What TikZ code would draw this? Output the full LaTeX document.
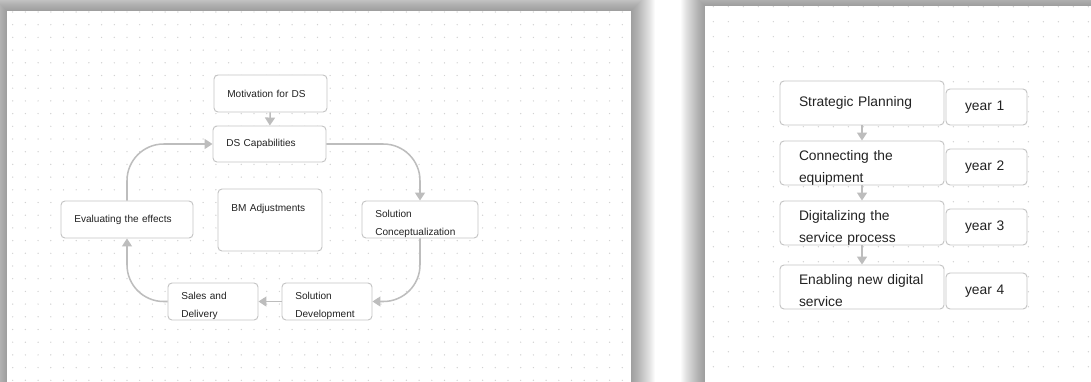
\documentclass[tikz,border=0pt]{standalone}
\usepackage{fontspec}
\setmainfont{Liberation Sans}
\usetikzlibrary{arrows.meta}

\definecolor{boxline}{HTML}{C4C4C4}
\definecolor{arrowgray}{HTML}{BDBDBD}
\definecolor{dotgray}{HTML}{D2D2D2}
\definecolor{textgray}{HTML}{222222}

\begin{document}
\begin{tikzpicture}[x = 0.03cm, y = -0.03cm,
  box/.style = {draw = boxline, fill = white, line width = 0.8pt, rounded corners = 0.12cm,
    text = textgray, align = left, inner ysep = 0pt},
  smallbox/.style = {box, font = \fontsize{8.6}{15.4}\selectfont, inner xsep = 0.4cm},
  bigbox/.style = {box, font = \fontsize{11.8}{18.2}\selectfont, inner xsep = 0.57cm},
  smalltwo/.style = {smallbox, text depth = 10.4pt},
  bigtwo/.style = {bigbox, text depth = 12pt},
  link/.style = {draw = arrowgray, line width = 1.3pt, rounded corners = 1.1cm,
    -{Triangle[width = 0.3cm, length = 0.24cm]}}]
  \useasboundingbox (0, 0) rectangle (1091, 381);
  \clip (0, 0) rectangle (1091, 381);

  % shadows and the two sheets
  \foreach \i in {1,...,24} {
    \fill[black, opacity = 0.018] ({7-\i}, {11-\i}) rectangle ({631+\i}, 400);
    \fill[black, opacity = 0.018] ({705-\i}, {6-\i}) rectangle (1110, 400);
  }
  \fill[white] (7, 11) rectangle (631, 400);
  \fill[white] (705, 6) rectangle (1110, 400);

  % dot grid
  \foreach \i in {1,...,49}
    \foreach \j in {0,...,29}
      \fill[dotgray] ({12.7*\i}, {12+12.7*\j}) circle (0.022cm);
  \foreach \i in {0,...,25}
    \foreach \j in {0,...,24}
      \fill[dotgray] ({713.3+15*\i}, {6.7+15*\j}) circle (0.022cm);

  % left: the cycle
  \node[smallbox, text width = 2.59cm, minimum height = 1.11cm] (mot) at (270.5, 93.5) {Motivation for DS};
  \node[smallbox, text width = 2.59cm, minimum height = 1.08cm] (cap) at (269.5, 144) {DS Capabilities};
  \node[smallbox, text width = 3.16cm, minimum height = 1.11cm] (eval) at (127, 219.5) {Evaluating the effects};
  \node[smallbox, text width = 2.32cm, minimum height = 1.86cm, text depth = 0.74cm] (bm) at (270, 220) {BM Adjustments};
  \node[smalltwo, text width = 2.68cm, minimum height = 1.11cm] (concept) at (420, 219.5) {Solution\\Conceptualization};
  \node[smalltwo, text width = 1.9cm, minimum height = 1.11cm] (dev) at (327, 301.5) {Solution\\Development};
  \node[smalltwo, text width = 1.9cm, minimum height = 1.11cm] (sales) at (213, 301.5) {Sales and\\Delivery};

  \draw[link] (mot) -- (cap);
  \draw[link] (cap.east) -| (concept.north);
  \draw[link] (concept.south) |- (dev.east);
  \draw[link] (dev.west) -- (sales.east);
  \draw[link] (sales.west) -| (eval.south);
  \draw[link] (eval.north) |- (cap.west);

  % right: the roadmap
  \node[bigbox, text width = 3.78cm, minimum height = 1.32cm] (plan) at (862, 103) {Strategic Planning};
  \node[bigtwo, text width = 3.78cm, minimum height = 1.32cm] (connect) at (862, 163) {Connecting the\\equipment};
  \node[bigtwo, text width = 3.78cm, minimum height = 1.32cm] (digital) at (862, 223) {Digitalizing the\\service process};
  \node[bigtwo, text width = 3.78cm, minimum height = 1.32cm] (enable) at (862, 287) {\mbox{Enabling new digital}\\service};
  \node[bigbox, text width = 1.29cm, minimum height = 1.08cm] (year1) at (986.5, 107) {year 1};
  \node[bigbox, text width = 1.29cm, minimum height = 1.08cm] (year2) at (986.5, 167) {year 2};
  \node[bigbox, text width = 1.29cm, minimum height = 1.08cm] (year3) at (986.5, 227) {year 3};
  \node[bigbox, text width = 1.29cm, minimum height = 1.08cm] (year4) at (986.5, 291) {year 4};

  \draw[link] (plan) -- (connect);
  \draw[link] (connect) -- (digital);
  \draw[link] (digital) -- (enable);
\end{tikzpicture}
\end{document}
